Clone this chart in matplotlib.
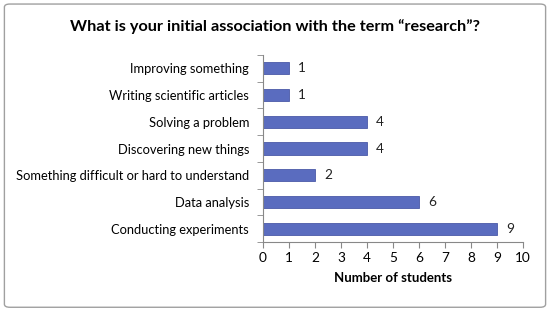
import matplotlib.pyplot as plt
import matplotlib.patches as mpatches
import numpy as np

categories = ['Improving something', 'Writing scientific articles', 'Solving a problem',
              'Discovering new things', 'Something difficult or hard to understand',
              'Data analysis', 'Conducting experiments']
counts = [1, 1, 4, 4, 2, 6, 9]
xticks = list(range(0, 11))

plt.rcParams['font.family'] = ['Lato', 'DejaVu Sans']

fig = plt.figure(figsize=(5.5, 3.11), dpi=100)
ax = fig.add_axes([0.478, 0.222, 0.473, 0.601])

ypos = np.arange(len(categories))[::-1]
bars = ax.barh(ypos, counts, height=0.45, color='#5a6cbf', edgecolor='#4a5aa8', linewidth=0.6)
for y, v in zip(ypos, counts):
    ax.text(v + 0.35, y, str(v), va='center', ha='left', fontsize=9.8, color='#222222')

ax.set_xlim(0, 10)
ax.set_ylim(-0.5, len(categories) - 0.5)
ax.set_xticks(xticks)
ax.set_yticks(ypos)
ax.set_yticklabels(categories, fontsize=9.3)
ax.set_yticks(np.arange(-0.5, len(categories)), minor=True)
ax.tick_params(axis='y', which='major', length=0, pad=10)
ax.tick_params(axis='y', which='minor', length=4, color='#888888')
ax.tick_params(axis='x', labelsize=9.8, length=4, color='#888888', pad=3)
for s in ['top', 'right']:
    ax.spines[s].set_visible(False)
for s in ['left', 'bottom']:
    ax.spines[s].set_color('#888888')
ax.set_xlabel('Number of students', fontsize=9.5, fontweight='bold', labelpad=6)

fig.text(0.5, 0.915, 'What is your initial association with the term \u201cresearch\u201d?',
         ha='center', va='center', fontsize=11.7, fontweight='bold')

border = mpatches.FancyBboxPatch((0.008, 0.012), 0.984, 0.975, boxstyle='round,pad=0,rounding_size=0.01',
                                 transform=fig.transFigure, fill=False, edgecolor='#a0a0a0', linewidth=1)
fig.patches.append(border)

fig.savefig('out.png', dpi=100)
